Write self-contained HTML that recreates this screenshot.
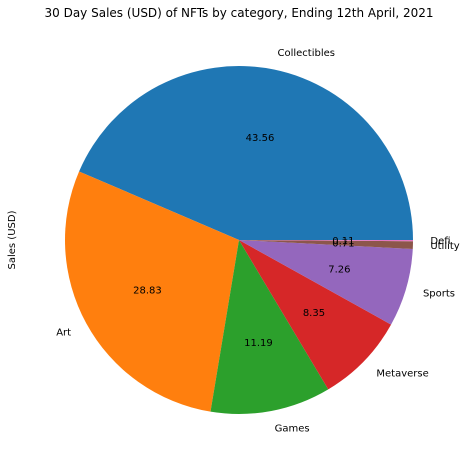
<!DOCTYPE html>
<html><head><meta charset="utf-8"><style>
body{margin:0;background:#fff;}
svg text{font-family:"DejaVu Sans","Liberation Sans",sans-serif;}
</style></head><body>
<svg id="chart" width="466" height="465" viewBox="0 0 466 465" xmlns="http://www.w3.org/2000/svg">
<rect width="466" height="465" fill="#fff"/>
<text x="239" y="17" font-size="12" text-anchor="middle">30 Day Sales (USD) of NFTs by category, Ending 12th April, 2021</text>
<text x="15" y="240" font-size="10" text-anchor="middle" transform="rotate(-90 15 240)">Sales (USD)</text>
<g id="slices"></g>
</svg>
<script>
const categories = ["Collectibles","Art","Games","Metaverse","Sports","Utility","Defi"];
const values = [43.56,28.83,11.19,8.35,7.26,0.71,0.11];
const colors = ["#1f77b4","#ff7f0e","#2ca02c","#d62728","#9467bd","#8c564b","#e377c2"];
const cx=239, cy=240, R=174;
const g=document.getElementById('slices');
const NS="http://www.w3.org/2000/svg";
const total=values.reduce((a,b)=>a+b,0);
function pt(r,a){return [cx+r*Math.cos(a), cy-r*Math.sin(a)];}
let start=0;
values.forEach((v,i)=>{
  const sweep=v/total*2*Math.PI;
  const end=start+sweep;
  const [x1,y1]=pt(R,start),[x2,y2]=pt(R,end);
  const p=document.createElementNS(NS,'path');
  p.setAttribute('d',`M${cx},${cy} L${x1},${y1} A${R},${R} 0 ${sweep>Math.PI?1:0} 0 ${x2},${y2} Z`);
  p.setAttribute('fill',colors[i]);
  
  
  g.appendChild(p);
  const mid=start+sweep/2;
  const [lx,ly]=pt(R*1.1,mid);
  const t=document.createElementNS(NS,'text');
  t.setAttribute('x',lx);t.setAttribute('y',ly+3.5);
  t.setAttribute('font-size','10');
  t.setAttribute('text-anchor',Math.cos(mid)>=0?'start':'end');
  t.textContent=categories[i];
  
  
  g.appendChild(t);
  const [px,py]=pt(R*0.6,mid);
  const q=document.createElementNS(NS,'text');
  q.setAttribute('x',px);q.setAttribute('y',py+3.5);
  q.setAttribute('font-size','10');
  q.setAttribute('text-anchor','middle');
  q.textContent=v.toFixed(2);
  
  
  g.appendChild(q);
  start=end;
});
</script>
</body></html>
